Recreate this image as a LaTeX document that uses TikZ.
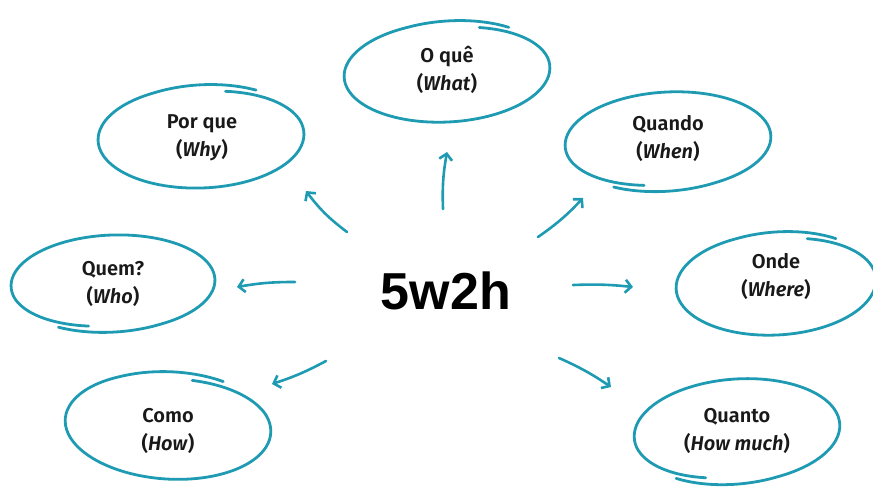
\documentclass[tikz,border=0pt]{standalone}
\usepackage{fontspec}
\setmainfont{Fira Sans}[UprightFont=* SemiBold, ItalicFont=* SemiBold Italic, BoldFont=* Bold]
\newfontfamily\corefont{Liberation Sans}
\usepackage{tikz}
\usetikzlibrary{arrows.meta,calc}
\definecolor{teal5w}{HTML}{1E9BB2}
\tikzstyle{ring} = [draw=teal5w, line width=2.8pt, line cap=round]
\tikzstyle{line} = [draw=teal5w, line width=2.6pt, line cap=round, -{Straight Barb[length=6pt,width=13pt,line width=2.6pt]}]
\tikzstyle{label} = [align=center, font=\fontsize{20}{28}\selectfont, text=black!90]

% hand drawn ellipse: centre, rx, ry, rotation, start angle
\newcommand{\handring}[5]{%
	\draw[ring, shift={(#1)}, rotate=#4] plot[smooth, domain=0:378, samples=90]
		({#2*(1-0.02*max(0,1-\x/60)+0.01*max(0,(\x-318)/60))*cos(\x+#5)},
		 {#3*(1-0.09*max(0,1-\x/60)+0.05*max(0,(\x-318)/60))*sin(\x+#5)});}

\begin{document}
\begin{tikzpicture}[x=1pt,y=-1pt]

		\useasboundingbox (0,0) rectangle (873,487);

		\node (core) at (446,291) {\corefont\fontsize{52}{52}\selectfont\bfseries 5w2h};

		\node [label] (what)    at (447,70)  {O quê\\(\textit{What})};
		\node [label] (why)     at (202,138) {Por que\\(\textit{Why})};
		\node [label] (when)    at (668,138) {Quando\\(\textit{When})};
		\node [label] (who)     at (113,284) {Quem?\\(\textit{Who})};
		\node [label] (where)   at (776,276) {Onde\\(\textit{Where})};
		\node [label] (how)     at (168,431) {Como\\(\textit{How})};
		\node [label] (howmuch) at (737,431) {Quanto\\(\textit{How much})};

		\handring{447,72}{103}{50}{3}{290}
		\handring{201,137}{103}{51}{2}{285}
		\handring{668,141}{103}{49}{3}{105}
		\handring{113,283}{102}{48}{2}{105}
		\handring{776,284}{100}{51}{3}{290}
		\handring{168,426}{103}{53}{-4}{282}
		\handring{737,431}{103}{52}{4}{110}

		% arrow ends
		\coordinate (t1) at (443,209); \coordinate (h1) at (447,152);
		\coordinate (t2) at (347,232); \coordinate (h2) at (306,191);
		\coordinate (t3) at (538,237); \coordinate (h3) at (583,198);
		\coordinate (t4) at (295,282); \coordinate (h4) at (237,287);
		\coordinate (t5) at (573,285); \coordinate (h5) at (633,287);
		\coordinate (t6) at (326,361); \coordinate (h6) at (272,384);
		\coordinate (t7) at (559,358); \coordinate (h7) at (611,387);

		\draw [line] (t1) to [bend left=6] (h1);
		\draw [line] (t2) to [bend left=8] (h2);
		\draw [line] (t3) to [bend right=6] (h3);
		\draw [line] (t4) to [bend right=5] (h4);
		\draw [line] (t5) to [bend left=4] (h5);
		\draw [line] (t6) to [bend left=5] (h6);
		\draw [line] (t7) to [bend left=5] (h7);

\end{tikzpicture}
\end{document}
